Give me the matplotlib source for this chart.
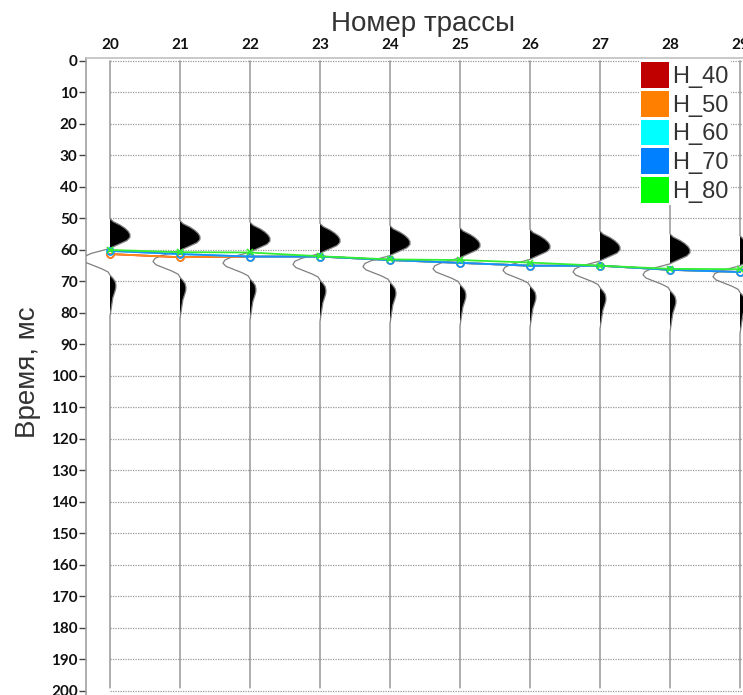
import numpy as np
import matplotlib
matplotlib.use("Agg")
import matplotlib.pyplot as plt
from matplotlib.patches import Patch

# Данные

traces = [20, 21, 22, 23, 24, 25, 26, 27, 28, 29]
# сдвиг импульса по трассам, мс
trace_shift = [0.0, 0.7, 1.2, 1.6, 2.3, 3.0, 3.5, 4.0, 4.9, 5.5]

# форма импульса (трасса 20), амплитуда нормирована на минимум
wavelet_t = [50, 51, 52, 53, 54, 55, 56, 57, 58, 59, 59.5, 60, 61, 62, 63, 64, 65, 66, 67,
             68, 69, 70, 71, 72, 73, 74, 75, 76, 77, 78, 79, 80, 81]
wavelet_amp = [0, 0.12, 0.36, 0.54, 0.67, 0.74, 0.74, 0.63, 0.37, 0.11, 0, -0.22, -0.67, -0.93,
               -1.0, -0.89, -0.59, -0.3, -0.07, 0, 0.11, 0.19, 0.22, 0.22, 0.19, 0.15, 0.11,
               0.09, 0.07, 0.055, 0.037, 0.018, 0]

# пикировки горизонтов, мс
horizons = ["H_40", "H_50", "H_60", "H_70", "H_80"]
h_40 = [61.3, 62.3, 62.1, 62.1, 63.2, 64.1, 65.0, 65.0, 66.3, 67.0]
h_50 = [61.3, 62.3, 62.1, 62.1, 63.2, 64.1, 65.0, 65.0, 66.3, 67.0]
h_60 = [60.3, 61.3, 62.1, 62.1, 63.2, 64.1, 65.0, 65.0, 66.3, 67.0]
h_70 = [60.3, 61.3, 62.1, 62.1, 63.2, 64.1, 65.0, 65.0, 66.3, 67.0]
h_80 = [60.0, 60.7, 60.8, 62.0, 63.0, 63.2, 64.0, 65.0, 66.0, 66.1]
horizon_values = [h_40, h_50, h_60, h_70, h_80]

legend_colors = ["#c00000", "#ff8000", "#00ffff", "#0080ff", "#00ff00"]
line_colors = ["#d01010", "#ff8c1a", "#19e6e6", "#1a8cff", "#33ee33"]

y_ticks = list(range(0, 201, 10))

# Рисунок

plt.rcParams['font.family'] = ['Liberation Sans', 'DejaVu Sans']

fig = plt.figure(figsize=(7.43, 6.95), dpi=100)
W, H = 743, 695
ax = fig.add_axes([86 / W, 0, 1 - 86 / W, 1 - 58 / H])

gain = 27 / 70  # ширина отрицательной фазы в долях расстояния между трассами
t = np.arange(0, 199.01, 0.1)

# сетка по времени начинается от первой трассы
ax.hlines(y_ticks, traces[0], 30, colors="#999999", linewidth=0.9,
          linestyles=(0, (1, 1)), zorder=1)

for x0, dt in zip(traces, trace_shift):
    amp = np.interp(t, np.array(wavelet_t) + dt, wavelet_amp, left=0, right=0) * gain
    ax.fill_betweenx(t, x0, x0 + amp, where=amp > 0, color="black", linewidth=0, zorder=2)
    ax.plot(x0 + amp, t, color="#808080", linewidth=0.9, zorder=3)

for name, vals, c in zip(horizons, horizon_values, line_colors):
    if name == "H_80":
        ax.plot(traces, vals, color=c, linewidth=1.3, marker="x", markersize=4.5,
                markeredgewidth=1.2, zorder=5)
    else:
        ax.plot(traces, vals, color=c, linewidth=1.3, marker="o", markersize=5,
                markerfacecolor="none", markeredgewidth=1.1, zorder=4)

ax.set_xlim(20 - 24 / 70, 20 + (W - 110) / 70)
ax.set_ylim(201.3, -0.95)

ax.xaxis.tick_top()
ax.set_xticks(traces)
ax.set_yticks(y_ticks)
ax.tick_params(axis="x", length=0, pad=4, labelsize=11, labelcolor="#111111")
ax.tick_params(axis="y", direction="out", length=5, width=1, color="#444444", pad=1,
               labelsize=11, labelcolor="#111111")
for lab in ax.get_xticklabels() + ax.get_yticklabels():
    lab.set_family(["Lato", "DejaVu Sans"])
    lab.set_fontweight("bold")

ax.spines["right"].set_visible(False)
ax.spines["bottom"].set_visible(False)
ax.spines["left"].set_color("#a0a0a0")
ax.spines["left"].set_linewidth(1.2)
ax.spines["top"].set_color("#c0c0c0")
ax.spines["top"].set_linewidth(1.2)

fig.text(423 / W, 1 - 24 / H, "Номер трассы", ha="center", va="center",
         fontsize=20, color="#333333")
fig.text(28 / W, 1 - 372 / H, "Время, мс", ha="center", va="center", rotation=90,
         fontsize=20, color="#333333")

handles = [Patch(facecolor=c, edgecolor="none") for c in legend_colors]
leg = ax.legend(handles, horizons, loc="upper left", bbox_to_anchor=(639 / W, 1 - 60 / H),
                bbox_transform=fig.transFigure, fontsize=17, frameon=True, fancybox=False,
                borderpad=0.1, borderaxespad=0, handlelength=1.15, handleheight=1.3,
                handletextpad=0.15, labelspacing=0.12)
leg.get_frame().set_edgecolor("none")
leg.get_frame().set_facecolor("white")
leg.get_frame().set_alpha(1)
for txt in leg.get_texts():
    txt.set_color("#333333")

fig.savefig("out.png", dpi=100)
